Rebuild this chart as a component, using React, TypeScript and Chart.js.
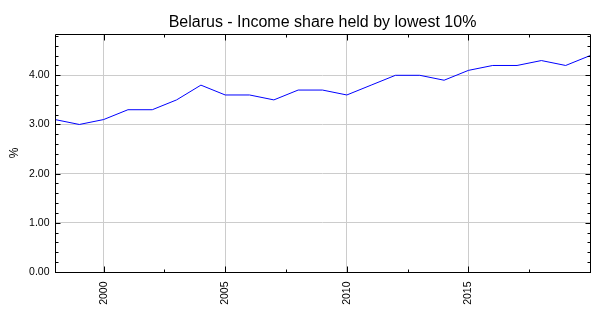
import React, { useEffect, useRef } from "react";
import { Chart, registerables } from "chart.js";

Chart.register(...registerables);

const TITLE = "Belarus - Income share held by lowest 10%";
const Y_TITLE = "%";
const years = [1998, 1999, 2000, 2001, 2002, 2003, 2004, 2005, 2006, 2007, 2008, 2009, 2010, 2011, 2012, 2013, 2014, 2015, 2016, 2017, 2018, 2019, 2020];
const values = [3.1, 3.0, 3.1, 3.3, 3.3, 3.5, 3.8, 3.6, 3.6, 3.5, 3.7, 3.7, 3.6, 3.8, 4.0, 4.0, 3.9, 4.1, 4.2, 4.2, 4.3, 4.2, 4.4];
const xMajorTicks = [2000, 2005, 2010, 2015];
const xMinorTicks = [2002.5, 2007.5, 2012.5, 2017.5];
const yMajorTicks = [0, 1, 2, 3, 4];

const FONT = "'Liberation Sans', Arial, sans-serif";

const framePlugin = {
  id: "frame",
  afterDraw(chart: any) {
    const { ctx, chartArea } = chart;
    const { left, right, top, bottom } = chartArea;
    const xs = chart.scales.x;
    const ys = chart.scales.y;
    ctx.save();
    ctx.strokeStyle = "#000";
    ctx.lineWidth = 1;
    ctx.beginPath();
    ctx.rect(left + 0.5, top + 0.5, right - left, bottom - top);
    ctx.stroke();
    const line = (x1: number, y1: number, x2: number, y2: number) => {
      ctx.beginPath();
      ctx.moveTo(x1, y1);
      ctx.lineTo(x2, y2);
      ctx.stroke();
    };
    // y ticks
    const yMax = ys.max;
    for (let i = 0; i * 0.2 <= yMax + 1e-9; i++) {
      const v = Math.round(i * 0.2 * 10) / 10;
      const major = yMajorTicks.includes(v);
      const len = major ? 5 : 3;
      const py = Math.round(ys.getPixelForValue(v)) + 0.5;
      line(left, py, left + 0.5 + len, py);
      line(right + 1, py, right + 0.5 - len, py);
    }
    // x ticks
    const drawX = (v: number, len: number) => {
      const px = Math.round(xs.getPixelForValue(v)) + 0.5;
      line(px, bottom + 0.5, px, bottom + 0.5 - len);
      line(px, top + 0.5, px, top + 0.5 + len);
    };
    xMajorTicks.forEach((v) => drawX(v, 6));
    xMinorTicks.forEach((v) => drawX(v, 3));
    ctx.restore();
  },
};

export default function App() {
  const ref = useRef<HTMLCanvasElement | null>(null);
  useEffect(() => {
    if (!ref.current) return;
    const yMax = Math.max(...values) * 1.1;
    const chart = new Chart(ref.current, {
      type: "line",
      data: {
        datasets: [
          {
            data: years.map((y, i) => ({ x: y, y: values[i] })),
            borderColor: "#0000ff",
            borderWidth: 1,
            pointRadius: 0,
            tension: 0,
            fill: false,
          },
        ],
      },
      options: {
        animation: false,
        responsive: false,
        devicePixelRatio: 1,
        layout: { padding: { left: 0, right: 10, top: 0, bottom: 0 } },
        plugins: {
          legend: { display: false },
          tooltip: { enabled: false },
          title: {
            display: true,
            text: TITLE,
            fullSize: false,
            color: "#000",
            font: { family: FONT, size: 16, weight: "normal" },
            padding: { top: 13.3, bottom: 1.5 },
          },
        },
        scales: {
          x: {
            type: "linear",
            min: 1998,
            max: 2020,
            afterFit: (s: any) => {
              s.height = 43;
            },
            afterBuildTicks: (s: any) => {
              s.ticks = xMajorTicks.map((v) => ({ value: v }));
            },
            grid: { color: "#cccccc", drawTicks: false, lineWidth: 1 },
            border: { display: false },
            ticks: {
              autoSkip: false,
              minRotation: 90,
              maxRotation: 90,
              padding: 9.5,
              color: "#000",
              font: { family: FONT, size: 10.5 },
              callback: (v: any) => String(v),
            },
          },
          y: {
            type: "linear",
            min: 0,
            max: yMax,
            afterFit: (s: any) => {
              s.width = 55;
            },
            afterBuildTicks: (s: any) => {
              s.ticks = yMajorTicks.map((v) => ({ value: v }));
            },
            grid: { color: "#cccccc", drawTicks: false, lineWidth: 1 },
            border: { display: false },
            title: {
              display: true,
              text: Y_TITLE,
              color: "#000",
              font: { family: FONT, size: 12 },
              padding: { top: 7.8, bottom: 0 },
            },
            ticks: {
              padding: 5.5,
              color: "#000",
              font: { family: FONT, size: 10.5 },
              callback: (v: any) => Number(v).toFixed(2),
            },
          },
        },
      },
      plugins: [framePlugin],
    });
    return () => chart.destroy();
  }, []);
  return (
    <div style={{ position: "absolute", left: 0, top: 0, width: 600, height: 315, background: "#fff" }}>
      <canvas ref={ref} width={600} height={315} style={{ width: 600, height: 315, display: "block" }} />
    </div>
  );
}
